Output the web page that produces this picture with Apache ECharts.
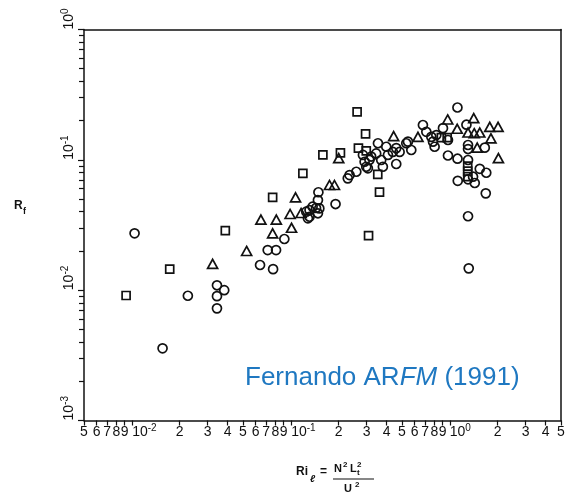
<!DOCTYPE html>
<html><head><meta charset="utf-8">
<script src="https://cdn.jsdelivr.net/npm/echarts@6/dist/echarts.min.js"></script>
<style>html,body{margin:0;padding:0;background:#fff}#chart{width:568px;height:499px}</style>
</head><body><div id="chart"></div>
<script>
// Ri_l (x) vs R_f (y)
const circles = [[0.0104,0.0273],[0.0156,0.00358],[0.0225,0.00906],[0.0343,0.0109],[0.0381,0.0100],[0.0343,0.0090],[0.0343,0.00725],[0.0640,0.0156],[0.0715,0.0203],[0.0807,0.0203],[0.0773,0.0145],[0.0910,0.0247],[0.128,0.0356],[0.131,0.0412],[0.144,0.0427],[0.125,0.0400],[0.137,0.0437],[0.131,0.0366],[0.148,0.0389],[0.148,0.0491],[0.149,0.0564],[0.191,0.0458],[0.151,0.0424],[0.228,0.0721],[0.258,0.0810],[0.234,0.0764],[0.291,0.0967],[0.305,0.0861],[0.320,0.106],[0.379,0.0885],[0.353,0.134],[0.398,0.126],[0.460,0.123],[0.532,0.134],[0.572,0.119],[0.460,0.0929],[0.284,0.109],[0.312,0.0997],[0.344,0.112],[0.298,0.0885],[0.370,0.0997],[0.408,0.109],[0.438,0.115],[0.483,0.115],[0.545,0.138],[0.677,0.185],[0.711,0.164],[0.765,0.150],[0.822,0.155],[0.783,0.138],[0.802,0.126],[0.905,0.175],[0.973,0.142],[1.116,0.252],[1.271,0.186],[1.301,0.130],[1.301,0.121],[1.658,0.124],[0.973,0.108],[1.117,0.102],[1.301,0.0997],[1.542,0.0853],[1.694,0.0796],[1.399,0.0742],[1.121,0.069],[1.301,0.0709],[1.434,0.0664],[1.682,0.0553],[1.301,0.0369],[1.314,0.0147]];
const squares = [[0.0092,0.0091],[0.0173,0.0145],[0.0387,0.0286],[0.0768,0.0515],[0.119,0.0788],[0.159,0.109],[0.205,0.113],[0.261,0.233],[0.295,0.158],[0.266,0.123],[0.298,0.117],[0.361,0.0566],[0.352,0.0774],[0.308,0.0262],[0.884,0.148],[0.962,0.148],[1.295,0.0896],[1.295,0.082],[1.295,0.0744]];
const triangles = [[0.0322,0.0159],[0.0527,0.020],[0.0648,0.0348],[0.081,0.0348],[0.0768,0.0273],[0.101,0.0301],[0.0989,0.0384],[0.116,0.0391],[0.107,0.0515],[0.175,0.0641],[0.188,0.0641],[0.200,0.103],[0.443,0.152],[0.630,0.150],[0.969,0.204],[1.413,0.209],[1.112,0.173],[1.782,0.179],[2.01,0.179],[1.301,0.162],[1.423,0.160],[1.542,0.162],[1.813,0.146],[1.486,0.124],[2.02,0.103]];

const xLabelValues = [0.005,0.006,0.007,0.008,0.009,0.01,0.02,0.03,0.04,0.05,0.06,0.07,0.08,0.09,0.1,0.2,0.3,0.4,0.5,0.6,0.7,0.8,0.9,1,2,3,4,5];
const yLabelValues = [0.001,0.01,0.1,1];
const X_MIN = 0.005, X_MAX = 5, Y_MIN = 0.001, Y_MAX = 1;

const FONT = "'Liberation Sans', Arial, Helvetica, sans-serif";
function decade(v){ return Math.floor(Math.log10(v) + 1e-9); }
function mant(v){ return Math.round(v / Math.pow(10, decade(v))); }
const rich = {
  b: {fontSize: 14, lineHeight: 18, fontFamily: FONT, color: '#111'},
  sup: {fontSize: 10, lineHeight: 10, verticalAlign: 'top', fontFamily: FONT, color: '#111'},
  p0: {width: 21, fontSize: 14, lineHeight: 18},
  p1: {width: 25, fontSize: 14, lineHeight: 18}
};
function xFmt(v){
  const e = decade(v), m = mant(v);
  if (m === 1) return '{' + (e === 0 ? 'p0' : 'p1') + '| }{b|10}{sup|' + e + '}';
  return '{b|' + m + '}';
}
function yFmt(v){ const e = decade(v); return '{b|10}{sup|' + e + '}'; }

const chart = echarts.init(document.getElementById('chart'), null, {renderer: 'canvas'});
const mk = (name, data, symbol, size) => ({
  type: 'scatter', name, data, symbol, symbolSize: size, xAxisIndex: 0, yAxisIndex: 0,
  itemStyle: {color: 'rgba(0,0,0,0)', borderColor: '#111', borderWidth: 1.7, opacity: 1},
  emphasis: {disabled: true}
});
const tickAxis = (min, max, len, pos) => ({
  type: 'log', logBase: 10, min, max, position: pos,
  axisLine: {show: true, lineStyle: {color: '#111', width: 1.5}},
  axisTick: {show: true, length: len, lineStyle: {color: '#111', width: 1.2}},
  minorTick: {show: true, splitNumber: 9, length: 5, lineStyle: {color: '#111', width: 1.2}},
  splitLine: {show: false},
  axisLabel: {show: true, color: 'rgba(0,0,0,0)'}
});
const frameAxis = (min, max, pos) => ({
  type: 'log', logBase: 10, min, max, position: pos,
  axisLine: {show: true, lineStyle: {color: '#111', width: 1.5}},
  axisTick: {show: false}, splitLine: {show: false}, axisLabel: {show: false}
});
chart.setOption({
  animation: false,
  backgroundColor: '#fff',
  grid: {left: 84, right: 7, top: 29.5, bottom: 78.5, containLabel: false, outerBoundsMode: 'none'},
  xAxis: [
    tickAxis(X_MIN, X_MAX, 5, 'bottom'),
    {type: 'log', logBase: 10, min: X_MIN, max: X_MAX, position: 'bottom',
     axisLine: {show: false}, axisTick: {show: false}, splitLine: {show: false},
     axisLabel: {show: true, customValues: xLabelValues, margin: 3, formatter: xFmt, rich: rich, hideOverlap: false}},
    frameAxis(X_MIN, X_MAX, 'top')
  ],
  yAxis: [
    tickAxis(Y_MIN, Y_MAX, 6, 'left'),
    {type: 'log', logBase: 10, min: Y_MIN, max: Y_MAX, position: 'left',
     axisLine: {show: false}, axisTick: {show: false}, splitLine: {show: false},
     axisLabel: {show: true, customValues: yLabelValues, rotate: 90, align: 'left', margin: 6, formatter: yFmt, rich: rich}},
    frameAxis(Y_MIN, Y_MAX, 'right')
  ],
  series: [
    mk('circles', circles, 'circle', 9),
    mk('squares', squares, 'rect', 8),
    mk('triangles', triangles, 'triangle', [10, 9])
  ],
  graphic: [
    {type: 'text', left: 14, top: 200, style: {text: 'R', font: "bold 12px " + FONT, fill: '#111'}},
    {type: 'text', left: 23, top: 207, style: {text: 'f', font: "bold 9px " + FONT, fill: '#111'}},
    {type: 'text', left: 296, top: 466, style: {text: 'Ri', font: "bold 12px " + FONT, fill: '#111'}},
    {type: 'text', left: 310, top: 474, style: {text: 'ℓ', font: "italic bold 10px " + FONT, fill: '#111'}},
    {type: 'text', left: 320, top: 466, style: {text: '=', font: "bold 12px " + FONT, fill: '#111'}},
    {type: 'text', left: 334, top: 463, style: {text: 'N', font: "bold 11px " + FONT, fill: '#111'}},
    {type: 'text', left: 343, top: 461, style: {text: '2', font: "bold 8px " + FONT, fill: '#111'}},
    {type: 'text', left: 350, top: 463, style: {text: 'L', font: "bold 11px " + FONT, fill: '#111'}},
    {type: 'text', left: 357, top: 461, style: {text: '2', font: "bold 8px " + FONT, fill: '#111'}},
    {type: 'text', left: 357, top: 469, style: {text: 't', font: "bold 8px " + FONT, fill: '#111'}},
    {type: 'line', shape: {x1: 333, y1: 479, x2: 374, y2: 479}, style: {stroke: '#111', lineWidth: 1.2}},
    {type: 'text', left: 344, top: 483, style: {text: 'U', font: "bold 11px " + FONT, fill: '#111'}},
    {type: 'text', left: 355, top: 481, style: {text: '2', font: "bold 8px " + FONT, fill: '#111'}},
    {type: 'text', x: 245, y: 378, style: {
      text: '{n|Fernando AR}{i|FM}{n| (1991)}', verticalAlign: 'middle', align: 'left',
      rich: {n: {fontSize: 26, fontFamily: FONT, fill: '#1f78c1', color: '#1f78c1'},
             i: {fontSize: 26, fontFamily: FONT, fontStyle: 'italic', fill: '#1f78c1', color: '#1f78c1'}}
    }}
  ]
});
</script></body></html>
